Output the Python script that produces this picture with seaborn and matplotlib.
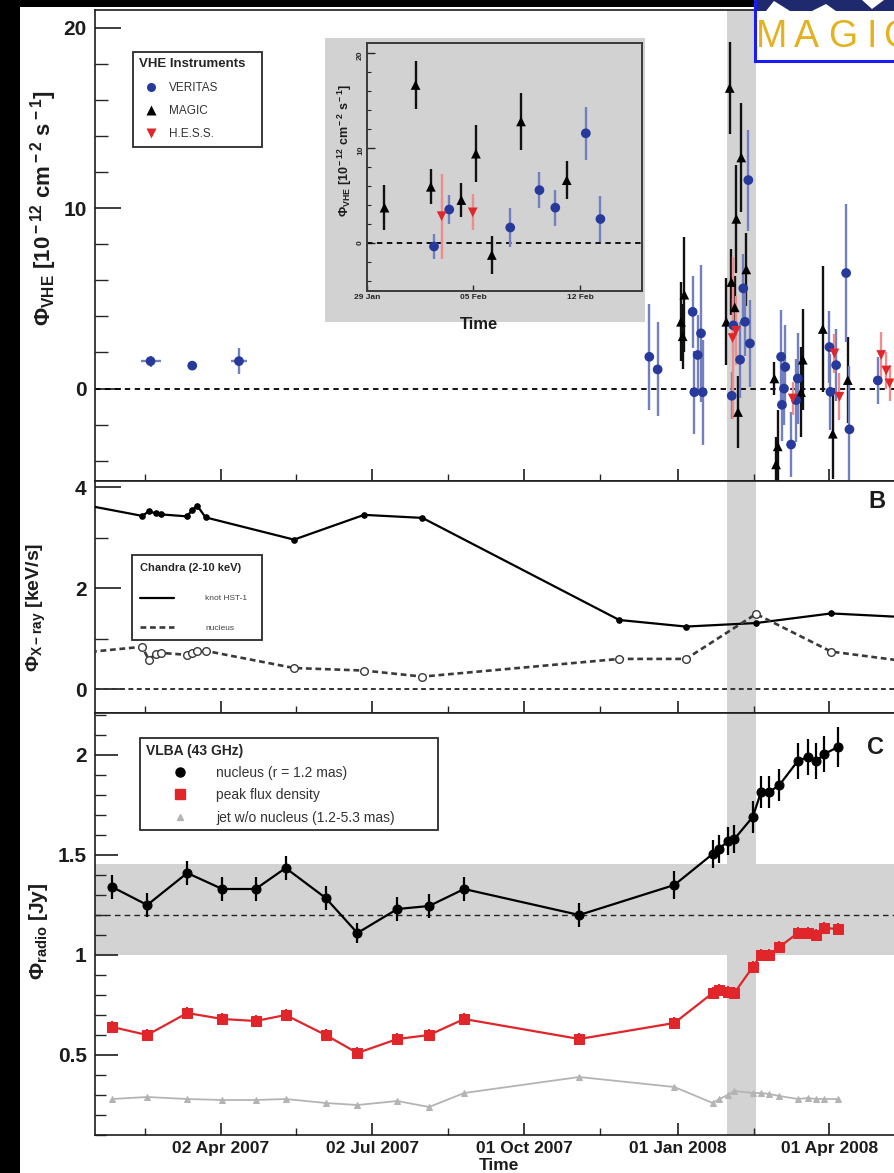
import matplotlib
matplotlib.use("Agg")
import numpy as np
import pandas as pd
import matplotlib.pyplot as plt
import matplotlib.dates as mdates
import matplotlib.ticker as mticker
from matplotlib.lines import Line2D
from matplotlib.patches import Rectangle, Polygon
import seaborn as sns

sns.set_theme(style="white")
plt.rcParams["font.family"] = ["Liberation Sans", "DejaVu Sans"]
plt.rcParams["mathtext.fontset"] = "custom"
plt.rcParams["mathtext.rm"] = "Liberation Sans:bold"
plt.rcParams["mathtext.it"] = "Liberation Sans:bold"
plt.rcParams["mathtext.bf"] = "Liberation Sans:bold"

# ---------------- VHE gamma-ray fluxes (10^-12 cm^-2 s^-1) ----------------
veritas_dates = ["2007-02-19", "2007-03-16", "2007-04-13", "2007-12-15", "2007-12-20",
                 "2008-01-10", "2008-01-11", "2008-01-13", "2008-01-15", "2008-01-16",
                 "2008-02-02 10:00", "2008-02-03 10:00", "2008-02-07 10:00", "2008-02-09 08:00",
                 "2008-02-10 09:00", "2008-02-12 09:00", "2008-02-13 08:00",
                 "2008-03-03", "2008-03-03 12:00", "2008-03-04 18:00", "2008-03-05 12:00",
                 "2008-03-09", "2008-03-12", "2008-03-13", "2008-04-01", "2008-04-01 14:00",
                 "2008-04-05", "2008-04-11", "2008-04-13", "2008-04-30"]
veritas_flux = [1.52, 1.27, 1.52, 1.76, 1.06,
                4.25, -0.20, 1.86, 3.06, -0.20,
                -0.40, 3.50, 1.60, 5.55,
                3.70, 11.55, 2.50,
                1.76, -0.90, 0.00, 1.20,
                -3.10, -0.64, 0.56, 2.30, -0.18,
                1.30, 6.40, -2.26, 0.45]
veritas_err = [0.30, 0.20, 0.70, 2.95, 2.60,
               2.0, 2.3, 2.2, 3.8, 2.9,
               1.3, 1.5, 2.1, 1.9,
               1.9, 2.8, 2.4,
               2.6, 2.0, 2.0, 2.3,
               1.8, 2.3, 2.5, 2.0, 2.1,
               2.0, 3.8, 3.5, 1.3]
veritas_xerr = [6, 0, 5] + [0] * 27

magic_dates = ["2008-01-03", "2008-01-04", "2008-01-05", "2008-01-30 04:00", "2008-02-01 05:00",
               "2008-02-02 05:00", "2008-02-04 05:00", "2008-02-05 04:00", "2008-02-06 05:00",
               "2008-02-08 03:00", "2008-02-11 03:00", "2008-02-28", "2008-02-29", "2008-03-01",
               "2008-03-15", "2008-03-16", "2008-03-28", "2008-04-03", "2008-04-12"]
magic_flux = [3.7, 2.9, 5.2, 3.7, 16.65, 5.9, 4.5, 9.4, -1.3, 12.8, 6.6,
              0.56, -4.2, -3.2, -0.2, 1.6, 3.3, -2.5, 0.47]
magic_err = [2.2, 1.8, 3.2, 2.4, 2.55, 1.85, 1.75, 3.0, 2.0, 3.0, 2.0,
             0.9, 1.5, 2.0, 2.5, 2.8, 3.5, 2.5, 2.4]

hess_dates = ["2008-02-02 22:00", "2008-02-04 23:00", "2008-03-10", "2008-04-04",
              "2008-04-07", "2008-05-02", "2008-05-05", "2008-05-07"]
hess_flux = [2.8, 3.2, -0.55, 1.95, -0.45, 1.86, 1.0, 0.29]
hess_err = [4.5, 1.9, 0.9, 1.1, 1.3, 1.3, 1.0, 1.0]

# ---------------- Chandra X-ray rates (keV/s) ----------------
chandra_dates = ["2006-12-17", "2007-02-14", "2007-02-18", "2007-02-22", "2007-02-25",
                 "2007-03-13", "2007-03-16", "2007-03-19", "2007-03-24", "2007-05-16",
                 "2007-06-27", "2007-08-01", "2007-11-27", "2008-01-06", "2008-02-17",
                 "2008-04-02", "2008-05-20"]
hst1_rate = [3.80, 3.43, 3.52, 3.48, 3.46, 3.42, 3.55, 3.63, 3.40, 2.96,
             3.45, 3.39, 1.37, 1.24, 1.31, 1.50, 1.42]
nucleus_rate = [0.65, 0.84, 0.58, 0.70, 0.72, 0.68, 0.71, 0.75, 0.76, 0.42,
                0.37, 0.25, 0.60, 0.60, 1.49, 0.745, 0.54]

# ---------------- VLBA 43 GHz radio fluxes (Jy) ----------------
radio_dates = ["2007-01-27", "2007-02-17", "2007-03-13", "2007-04-03", "2007-04-23",
               "2007-05-11", "2007-06-04", "2007-06-23", "2007-07-17", "2007-08-05",
               "2007-08-26", "2007-11-03", "2007-12-30", "2008-01-22", "2008-01-26",
               "2008-01-31", "2008-02-04", "2008-02-15", "2008-02-20", "2008-02-25",
               "2008-03-02", "2008-03-13", "2008-03-19", "2008-03-24", "2008-03-29",
               "2008-04-06"]
radio_nucleus = [1.34, 1.25, 1.41, 1.33, 1.33, 1.435, 1.285, 1.11, 1.23, 1.245,
                 1.33, 1.20, 1.35, 1.505, 1.53, 1.57, 1.58, 1.69, 1.815, 1.815,
                 1.85, 1.97, 1.99, 1.97, 2.005, 2.04]
radio_nucleus_err = [0.06, 0.06, 0.06, 0.06, 0.06, 0.06, 0.06, 0.05, 0.06, 0.06,
                     0.06, 0.06, 0.07, 0.07, 0.07, 0.07, 0.07, 0.08, 0.08, 0.08,
                     0.08, 0.09, 0.09, 0.09, 0.09, 0.10]
radio_peak = [0.64, 0.60, 0.71, 0.68, 0.67, 0.70, 0.60, 0.51, 0.58, 0.60,
              0.68, 0.58, 0.66, 0.81, 0.825, 0.815, 0.81, 0.94, 1.00, 1.00,
              1.04, 1.11, 1.11, 1.10, 1.135, 1.13]
radio_jet = [0.28, 0.29, 0.28, 0.275, 0.275, 0.28, 0.26, 0.25, 0.27, 0.24,
             0.31, 0.39, 0.34, 0.26, 0.28, 0.30, 0.32, 0.31, 0.31, 0.305,
             0.295, 0.28, 0.285, 0.28, 0.28, 0.28]

# ---------------- time axis ----------------
time_range = ["2007-01-16 17:00", "2008-05-16 07:00"]
flare_window = ["2008-01-30 09:00", "2008-02-16 20:00"]
inset_range = ["2008-01-29 00:00", "2008-02-16 01:00"]
major_dates = ["2007-04-02", "2007-07-02", "2007-10-01", "2008-01-01", "2008-04-01"]
minor_dates = ["2007-02-15 12:00", "2007-05-17 12:00", "2007-08-16 12:00",
               "2007-11-15 12:00", "2008-02-15 12:00", "2008-05-16 00:00"]
inset_major = ["2008-01-29", "2008-02-05", "2008-02-12"]

C_BLUE = "#27399a"
C_BLUE_BAR = "#7280c0"
C_RED = "#e0262a"
C_RED_BAR = "#ef8d8d"
C_BAND = "#d3d3d3"
INK = "#1c1c1c"


def xnum(dates):
    return mdates.date2num(pd.to_datetime(dates, format="mixed").values)


W, H, DPI = 894, 1173, 100
fig = plt.figure(figsize=(W / DPI, H / DPI), dpi=DPI, facecolor="white")


def box(x0, y0, x1, y1):
    return [x0 / W, 1 - y1 / H, (x1 - x0) / W, (y1 - y0) / H]


def fig_label(xc, yc, text, size):
    fig.text(xc / W, 1 - yc / H, text, rotation=90, ha="center", va="center",
             fontsize=size, fontweight="bold", color=INK)


ax_a = fig.add_axes(box(95, 10, 905, 481))
ax_b = fig.add_axes(box(95, 481, 905, 713))
ax_c = fig.add_axes(box(95, 713, 905, 1135))

t0, t1 = xnum(time_range)
f0, f1 = xnum(flare_window)


def style_panel(ax, ylim, ymaj, ystep, ylen, show_dates=False):
    ax.set_facecolor("white")
    ax.set_xlim(t0, t1)
    ax.set_ylim(*ylim)
    ax.xaxis.set_major_locator(mticker.FixedLocator(xnum(major_dates)))
    ax.xaxis.set_minor_locator(mticker.FixedLocator(xnum(minor_dates)))
    ax.xaxis.set_major_formatter(mdates.DateFormatter("%d %b %Y"))
    ax.yaxis.set_major_locator(mticker.FixedLocator(ymaj))
    ax.yaxis.set_minor_locator(mticker.MultipleLocator(ystep))
    ax.yaxis.set_major_formatter(mticker.FuncFormatter(lambda v, p: f"{v:g}"))
    for s in ax.spines.values():
        s.set_linewidth(1.2)
        s.set_color(INK)
    ax.tick_params(axis="y", which="major", direction="in", length=ylen, width=1.2,
                   left=True, right=False, labelsize=15, pad=6, colors=INK)
    ax.tick_params(axis="y", which="minor", direction="in", length=ylen * 0.5, width=1.0,
                   left=True, right=False)
    ax.tick_params(axis="x", which="major", direction="in", length=9, width=1.2,
                   bottom=True, top=False, labelsize=12.5, pad=4,
                   labelbottom=show_dates, colors=INK)
    ax.tick_params(axis="x", which="minor", direction="in", length=5, width=1.0,
                   bottom=True, top=False)
    for lab in ax.get_yticklabels() + ax.get_xticklabels():
        lab.set_fontweight("bold")
    ax.axvspan(f0, f1, color=C_BAND, lw=0, zorder=0)


style_panel(ax_a, (-5.12, 20.97), [0, 10, 20], 2, 19)
style_panel(ax_b, (-0.47, 4.12), [0, 2, 4], 1, 19)
style_panel(ax_c, (0.10, 2.21), [0.5, 1, 1.5, 2], 0.1, 16.5, show_dates=True)


def draw_vhe(ax, ms, lw):
    sets = [
        (magic_dates, magic_flux, magic_err, None, "black", "#111111", "^"),
        (veritas_dates, veritas_flux, veritas_err, veritas_xerr, C_BLUE, C_BLUE_BAR, "o"),
        (hess_dates, hess_flux, hess_err, None, C_RED, C_RED_BAR, "v"),
    ]
    for dates, flux, err, xerr, col, ecol, mk in sets:
        ax.errorbar(xnum(dates), flux, yerr=err, xerr=xerr, fmt="none", ecolor=ecol,
                    elinewidth=lw, capsize=0, zorder=2)
    for dates, flux, err, xerr, col, ecol, mk in sets:
        sns.scatterplot(x=xnum(dates), y=flux, ax=ax, marker=mk, color=col, s=ms ** 2,
                        edgecolor="none", linewidth=0, zorder=3, legend=False)
    ax.axhline(0, color="black", lw=1.3, ls=(0, (3, 2.5)), zorder=1)


# ---------------- panel A: VHE ----------------
draw_vhe(ax_a, 7.0, 1.7)
ax_a.set_xlim(t0, t1)
ax_a.set_ylim(-5.12, 20.97)
fig_label(44, 208, r"Φ$_{\rm VHE}$ [10$^{\rm -12}$ cm$^{\rm -2}$ s$^{\rm -1}$]", 16)

leg_a = ax_a.legend(
    handles=[Line2D([], [], marker="o", ls="none", color=C_BLUE, ms=6.5, mec="none"),
             Line2D([], [], marker="^", ls="none", color="black", ms=6.5, mec="none"),
             Line2D([], [], marker="v", ls="none", color=C_RED, ms=6.5, mec="none")],
    labels=["VERITAS", "MAGIC", "H.E.S.S."], title="VHE Instruments",
    loc="upper left", bbox_to_anchor=(133 / W, 1 - 147 / H, 129 / W, 95 / H),
    bbox_transform=fig.transFigure, mode="expand", borderaxespad=0,
    fontsize=8.5, title_fontsize=9.5, labelspacing=0.95, handlelength=2.0,
    handletextpad=0.5, borderpad=0.55, frameon=True, fancybox=False,
    edgecolor="#2a2a2a", framealpha=1, alignment="left")
leg_a.get_frame().set_linewidth(1.3)
leg_a.get_title().set_fontweight("bold")
for t in leg_a.get_texts():
    t.set_color("#333333")

# inset background panel and zoomed axes
fig.add_artist(Rectangle((325 / W, 1 - 322 / H), 320 / W, 284 / H, transform=fig.transFigure,
                         facecolor="#d2d2d2", edgecolor="none", zorder=1))
ax_in = fig.add_axes(box(366.7, 43.3, 641.7, 291))
ax_in.set_zorder(2)
ax_in.set_facecolor("#d2d2d2")
draw_vhe(ax_in, 7.0, 1.7)
i0, i1 = xnum(inset_range)
ax_in.set_xlim(i0, i1)
ax_in.set_ylim(-5.1, 21.05)
ax_in.xaxis.set_major_locator(mticker.FixedLocator(xnum(inset_major)))
ax_in.xaxis.set_major_formatter(mdates.DateFormatter("%d %b"))
ax_in.yaxis.set_major_locator(mticker.FixedLocator([0, 10, 20]))
ax_in.yaxis.set_minor_locator(mticker.MultipleLocator(2))
ax_in.yaxis.set_major_formatter(mticker.FuncFormatter(lambda v, p: f"{v:g}"))
for s in ax_in.spines.values():
    s.set_linewidth(1.4)
    s.set_color("#3a3a3a")
ax_in.tick_params(axis="y", which="major", direction="in", length=6, width=1.0, left=True,
                  labelsize=6, labelrotation=90, pad=2)
ax_in.tick_params(axis="y", which="minor", direction="in", length=3, width=0.8, left=True)
ax_in.tick_params(axis="x", which="major", direction="in", length=4, width=1.0, bottom=True,
                  labelsize=6, pad=2)
for lab in ax_in.get_xticklabels() + ax_in.get_yticklabels():
    lab.set_fontweight("bold")
fig_label(345, 150, r"Φ$_{\rm VHE}$ [10$^{\rm -12}$ cm$^{\rm -2}$ s$^{\rm -1}$]", 9)
ax_in.set_xlabel("Time", fontsize=12, fontweight="bold", color=INK)
ax_in.xaxis.set_label_coords(0.41, -0.105)

# ---------------- panel B: Chandra ----------------
cx = xnum(chandra_dates)
ax_b.axhline(0, color="#333333", lw=1.4, ls=(0, (2.5, 1.8)), zorder=1)
sns.lineplot(x=cx, y=hst1_rate, ax=ax_b, color="black", lw=1.6, marker="o", markersize=4,
             markerfacecolor="black", markeredgecolor="black", estimator=None, sort=False,
             legend=False, zorder=3)
sns.lineplot(x=cx, y=nucleus_rate, ax=ax_b, color="#3a3a3a", lw=1.9, linestyle=(0, (2.2, 1.4)),
             marker="o", markersize=5.5, markerfacecolor="white", markeredgecolor="#3a3a3a",
             markeredgewidth=1.0, estimator=None, sort=False, legend=False, zorder=3)
ax_b.set_xlim(t0, t1)
ax_b.set_ylim(-0.47, 4.12)
fig_label(36, 607, r"Φ$_{\rm X-ray}$ [keV/s]", 14)

leg_b = ax_b.legend(
    handles=[Line2D([], [], color="black", lw=1.6),
             Line2D([], [], color="#3a3a3a", lw=1.9, ls=(0, (2.2, 1.4)))],
    labels=["knot HST-1", "nucleus"], title="Chandra (2-10 keV)",
    loc="upper left", bbox_to_anchor=(132 / W, 1 - 632 / H, 130 / W, 77 / H),
    bbox_transform=fig.transFigure, mode="expand", borderaxespad=0,
    fontsize=6, title_fontsize=8, labelspacing=2.55, handlelength=4.0,
    handletextpad=3.8, borderpad=1.0, frameon=True, fancybox=False,
    edgecolor="#2a2a2a", framealpha=1, alignment="left")
leg_b.get_frame().set_linewidth(1.3)
leg_b.get_title().set_fontweight("bold")
for t in leg_b.get_texts():
    t.set_color("#444444")

# ---------------- panel C: VLBA ----------------
rx = xnum(radio_dates)
ax_c.axhspan(1.0, 1.455, color=C_BAND, lw=0, zorder=0)
ax_c.axhline(1.2, color="#222222", lw=1.0, ls=(0, (4, 3)), zorder=1)
sns.lineplot(x=rx, y=radio_jet, ax=ax_c, color="#b4b4b4", lw=1.3, marker="^", markersize=5,
             markerfacecolor="#b4b4b4", markeredgecolor="#b4b4b4", estimator=None, sort=False,
             legend=False, zorder=2)
ax_c.errorbar(rx, radio_peak, yerr=0.03, xerr=2.0, fmt="none", ecolor=C_RED, elinewidth=1.5,
              capsize=0, zorder=3)
sns.lineplot(x=rx, y=radio_peak, ax=ax_c, color=C_RED, lw=1.6, marker="s", markersize=6.5,
             markerfacecolor=C_RED, markeredgecolor=C_RED, estimator=None, sort=False,
             legend=False, zorder=3)
ax_c.errorbar(rx, radio_nucleus, yerr=radio_nucleus_err, fmt="none", ecolor="black",
              elinewidth=1.6, capsize=0, zorder=4)
sns.lineplot(x=rx, y=radio_nucleus, ax=ax_c, color="black", lw=1.6, marker="o", markersize=6.5,
             markerfacecolor="black", markeredgecolor="black", estimator=None, sort=False,
             legend=False, zorder=4)
ax_c.set_xlim(t0, t1)
ax_c.set_ylim(0.10, 2.21)
fig_label(38, 931, r"Φ$_{\rm radio}$ [Jy]", 15)
ax_c.set_xlabel("")
for lab in ax_c.get_xticklabels():
    lab.set_fontweight("bold")
fig.text(499 / W, 1 - 1165 / H, "Time", fontsize=12.5, fontweight="bold", color=INK,
         ha="center", va="center")

leg_c = ax_c.legend(
    handles=[Line2D([], [], marker="o", ls="none", color="black", ms=6.5),
             Line2D([], [], marker="s", ls="none", color=C_RED, ms=6.5),
             Line2D([], [], marker="^", ls="none", color="#b4b4b4", ms=5)],
    labels=["nucleus (r = 1.2 mas)", "peak flux density", "jet w/o nucleus (1.2-5.3 mas)"],
    title="VLBA (43 GHz)",
    loc="upper left", bbox_to_anchor=(140 / W, 1 - 832 / H, 298 / W, 94 / H),
    bbox_transform=fig.transFigure, mode="expand", borderaxespad=0,
    fontsize=10, title_fontsize=10, labelspacing=0.6, handlelength=4.9,
    handletextpad=0.2, borderpad=0.4, frameon=True, fancybox=False,
    edgecolor="#2a2a2a", framealpha=1, alignment="left")
leg_c.get_frame().set_linewidth(1.3)
leg_c.get_title().set_fontweight("bold")
for t in leg_c.get_texts():
    t.set_color("#333333")

# panel letters
fig.text(877 / W, 1 - 502 / H, "B", fontsize=17, fontweight="bold", color=INK,
         ha="center", va="center")
fig.text(875 / W, 1 - 747 / H, "C", fontsize=17, fontweight="bold", color=INK,
         ha="center", va="center")

# ---------------- page frame and logo ----------------
fig.add_artist(Rectangle((0, 0), 20 / W, 1, transform=fig.transFigure,
                         facecolor="black", edgecolor="none", zorder=10))
fig.add_artist(Rectangle((0, 1 - 7 / H), 755 / W, 7 / H, transform=fig.transFigure,
                         facecolor="black", edgecolor="none", zorder=10))


def fpx(pts):
    return [(x / W, 1 - y / H) for x, y in pts]


fig.add_artist(Rectangle((755 / W, 1 - 61 / H), (W + 10 - 755) / W, 71 / H,
                         transform=fig.transFigure, facecolor="white",
                         edgecolor="#1c1cf0", lw=2.2, zorder=11))
fig.add_artist(Polygon(fpx([(757, 0), (900, 0), (900, 11), (757, 11)]), closed=True,
                       transform=fig.transFigure, facecolor="#1f2a6e", edgecolor="none", zorder=12))
for tri in ([(766, 11), (790, 11), (774, 1)], [(812, 11), (836, 11), (826, 4)],
            [(862, 0), (884, 0), (872, 9)]):
    fig.add_artist(Polygon(fpx(tri), closed=True, transform=fig.transFigure,
                           facecolor="white", edgecolor="none", zorder=12))
for ch, xc in zip("MAGIC", [772, 806, 843, 872, 897]):
    fig.text(xc / W, 1 - 37 / H, ch, fontsize=27, color="#e3b21e", ha="center",
             va="center", zorder=13)

fig.savefig("out.png", dpi=DPI, facecolor="white")
